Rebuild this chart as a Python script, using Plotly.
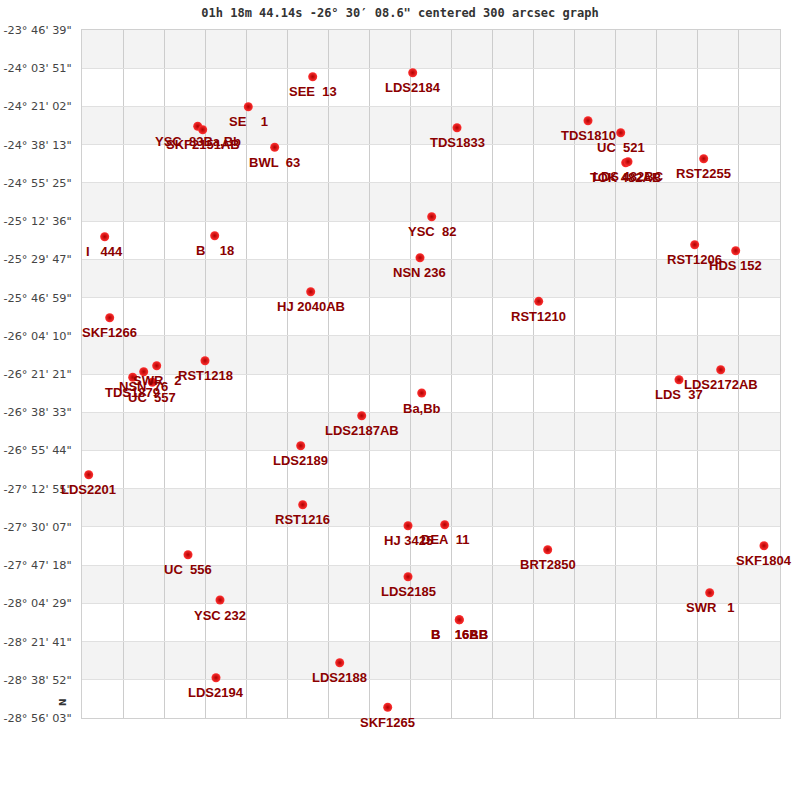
import re
import plotly.graph_objects as go

# ---- data -------------------------------------------------------------
TITLE = "01h 18m 44.14s -26\u00b0 30\u2032 08.6\" centered 300 arcsec graph"

Y_TICK_LABELS = [
    '-23\u00b0 46\' 39"', '-24\u00b0 03\' 51"', '-24\u00b0 21\' 02"', '-24\u00b0 38\' 13"',
    '-24\u00b0 55\' 25"', '-25\u00b0 12\' 36"', '-25\u00b0 29\' 47"', '-25\u00b0 46\' 59"',
    '-26\u00b0 04\' 10"', '-26\u00b0 21\' 21"', '-26\u00b0 38\' 33"', '-26\u00b0 55\' 44"',
    '-27\u00b0 12\' 55"', '-27\u00b0 30\' 07"', '-27\u00b0 47\' 18"', '-28\u00b0 04\' 29"',
    '-28\u00b0 21\' 41"', '-28\u00b0 38\' 52"', '-28\u00b0 56\' 03"',
]

NAMES = [
    "SEE  13", "SE    1", "YSC  83Ba,Bb", "SKF2151AB", "BWL  63", "LDS2184",
    "TDS1833", "TDS1810", "UC  521", "TOK 482AB", "LDS 482BC", "RST2255",
    "I   444", "B    18", "HJ 2040AB", "SKF1266", "RST1218", "SWR   2",
    "NSN  76", "TDS1879", "UC  557", "YSC  82", "NSN 236", "RST1206",
    "HDS 152", "RST1210", "LDS2172AB", "LDS  37", "Ba,Bb", "LDS2187AB",
    "LDS2189", "LDS2201", "RST1216", "UC  556", "YSC 232", "HJ 3425",
    "DEA  11", "BRT2850", "SKF1804", "LDS2185", "SWR   1", "LDS2194",
    "LDS2188", "SKF1265", "B    16AB", "B    16BB",
]

# RA offset from field centre (arcmin)
RA_OFFSET = [
    -49.53, -76.49, -97.67, -95.58, -65.44, -7.66,
    10.89, 65.73, 79.42, 81.51, 82.48, 114.17,
    -136.61, -90.56, -50.37, -134.52, -94.62, -114.84,
    -120.28, -124.89, -116.68, 0.29, -4.61, 110.40,
    127.57, 45.09, 121.29, 103.83, -3.89, -29.01,
    -54.55, -143.31, -53.71, -101.73, -88.34, -9.63,
    5.74, 48.86, 139.41, -9.63, 116.68, -90.01,
    -38.22, -18.13, 11.85, 11.85,
]

# Declination (degrees)
DEC = [
    -24.1275, -24.3524, -24.4993, -24.5248, -24.6567, -24.0976,
    -24.5098, -24.4573, -24.5473, -24.7721, -24.7646, -24.7421,
    -25.3268, -25.3193, -25.7390, -25.9339, -26.2562, -26.2936,
    -26.3386, -26.3806, -26.4181, -25.1769, -25.4842, -25.3867,
    -25.4317, -25.8110, -26.3236, -26.3986, -26.4983, -26.6684,
    -26.8933, -27.1106, -27.3355, -27.7102, -28.0498, -27.4929,
    -27.4854, -27.6728, -27.6428, -27.8751, -27.9951, -28.6321,
    -28.5197, -28.8540, -28.1974, -28.1974,
]

X_CELL = 17.19      # arcmin per grid column
N_COLS = 17


def dms_to_deg(s):
    d, m, sec = [abs(float(v)) for v in re.findall(r"\d+", s)]
    val = d + m / 60 + sec / 3600
    return -val if s.strip().startswith("-") else val


y_tickvals = [dms_to_deg(s) for s in Y_TICK_LABELS]
x_half = X_CELL * N_COLS / 2

fig = go.Figure()

fig.add_trace(go.Scatter(
    x=RA_OFFSET, y=DEC, mode="markers",
    marker=dict(size=9, color="#ff3030",
                gradient=dict(type="radial", color="#b00000"),
                line=dict(width=0)),
    hoverinfo="skip", showlegend=False,
))

annotations = []
for name, xv, yv in zip(NAMES, RA_OFFSET, DEC):
    annotations.append(dict(
        x=xv, y=yv, xref="x", yref="y", text=name.replace(" ", "\u00a0"),
        showarrow=False, yshift=-15, xanchor="center", yanchor="middle",
        font=dict(family="Liberation Sans, Arial, sans-serif", size=13,
                  color="#8b0000", weight="bold"),
    ))

annotations.append(dict(
    x=-26 / 698, y=10 / 688, xref="paper", yref="paper", text="N",
    showarrow=False, textangle=-90,
    font=dict(family="DejaVu Sans", size=9, color="#333333", weight="bold"),
))

shapes = []
for i in range(0, len(y_tickvals) - 1, 2):
    shapes.append(dict(
        type="rect", xref="paper", yref="y", x0=0, x1=1,
        y0=y_tickvals[i + 1], y1=y_tickvals[i],
        fillcolor="#f3f3f3", line=dict(width=0), layer="below",
    ))

fig.update_layout(
    width=800, height=800,
    margin=dict(l=82, r=20, t=30, b=82, autoexpand=False),
    paper_bgcolor="white", plot_bgcolor="white",
    title=dict(text=TITLE, x=0.5, xanchor="center", y=1 - 13 / 800, yanchor="middle",
               yref="container",
               font=dict(family="DejaVu Sans Mono", size=12, color="#333333", weight="bold")),
    xaxis=dict(range=[-x_half, x_half], tick0=-x_half, dtick=X_CELL,
               showticklabels=False, ticks="", showgrid=True, gridcolor="#cccccc",
               gridwidth=1, zeroline=False, showline=True, linecolor="#d0d0d0",
               mirror=True, fixedrange=True, automargin=False),
    yaxis=dict(range=[y_tickvals[-1], y_tickvals[0]], tickvals=y_tickvals,
               ticktext=Y_TICK_LABELS, showgrid=True, gridcolor="#e0e0e0",
               gridwidth=1, zeroline=False, showline=True, linecolor="#d0d0d0",
               mirror=True, ticks="", ticklabelstandoff=7, automargin=False,
               fixedrange=True,
               tickfont=dict(family="DejaVu Sans", size=11.3, color="#444444")),
    shapes=shapes,
    annotations=annotations,
)

fig.write_html("out.html", config={"displayModeBar": False},
               post_script="document.body.style.margin='0';document.body.style.padding='0';")
